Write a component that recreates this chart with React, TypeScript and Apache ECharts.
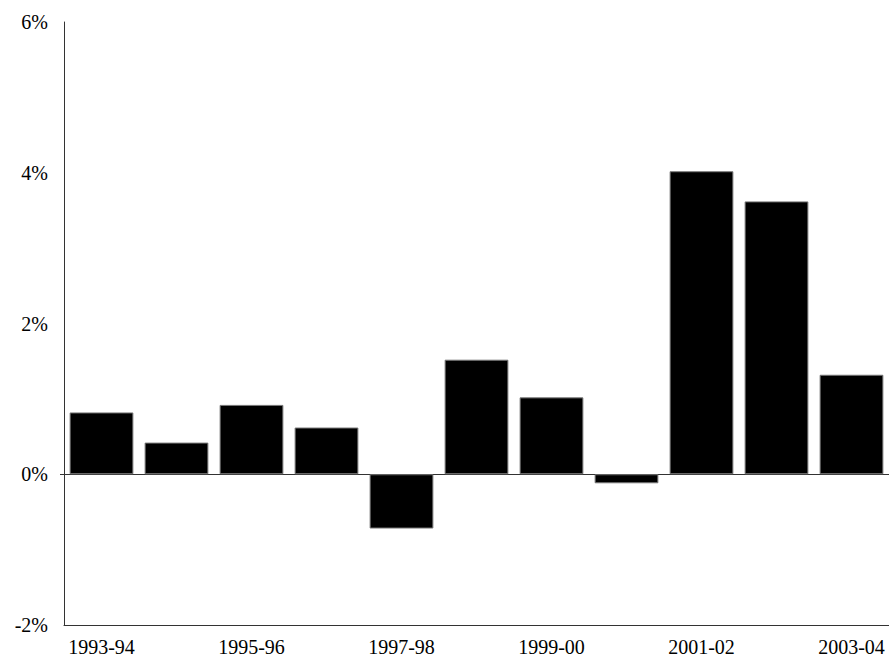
import React, { useEffect, useRef } from "react";
import * as echarts from "echarts";

const categories = [
  "1993-94", "1994-95", "1995-96", "1996-97", "1997-98", "1998-99",
  "1999-00", "2000-01", "2001-02", "2002-03", "2003-04",
];
const values = [0.82, 0.42, 0.92, 0.62, -0.72, 1.52, 1.02, -0.12, 4.02, 3.62, 1.32];
const yMin = -2;
const yMax = 6;
const yStep = 2;

const FONT = "'Liberation Serif', 'DejaVu Serif', serif";

export default function App() {
  const ref = useRef<HTMLDivElement>(null);
  useEffect(() => {
    if (!ref.current) return;
    const chart = echarts.init(ref.current, null, { renderer: "svg" });
    chart.setOption({
      animation: false,
      backgroundColor: "#fff",
      grid: { left: 64, right: 0, top: 22, bottom: 32, containLabel: false },
      xAxis: {
        type: "category",
        data: categories,
        position: "bottom",
        axisLine: { show: true, onZero: false, lineStyle: { color: "#333", width: 1 } },
        axisTick: { show: false },
        axisLabel: {
          interval: 1,
          color: "#000",
          fontFamily: FONT,
          fontSize: 20,
          margin: 12,
        },
      },
      yAxis: {
        type: "value",
        min: yMin,
        max: yMax,
        interval: yStep,
        splitLine: { show: false },
        axisLine: { show: true, lineStyle: { color: "#333", width: 1 } },
        axisTick: { show: true, customValues: [0], length: 4, lineStyle: { color: "#333" } },
        axisLabel: {
          formatter: (v: number) => `${v}%`,
          color: "#000",
          fontFamily: FONT,
          fontSize: 20,
          margin: 16,
        },
      },
      series: [
        {
          type: "bar",
          data: values,
          barCategoryGap: "15%",
          itemStyle: { color: "#000", borderColor: "#777", borderWidth: 1 },
          markLine: {
            silent: true,
            symbol: "none",
            label: { show: false },
            lineStyle: { color: "#333", width: 1, type: "solid" },
            data: [{ yAxis: 0 }],
            z: 1,
          },
        },
      ],
    });
    return () => chart.dispose();
  }, []);
  return (
    <div
      ref={ref}
      style={{ position: "fixed", left: 0, top: 0, width: 889, height: 657, background: "#fff" }}
    />
  );
}
